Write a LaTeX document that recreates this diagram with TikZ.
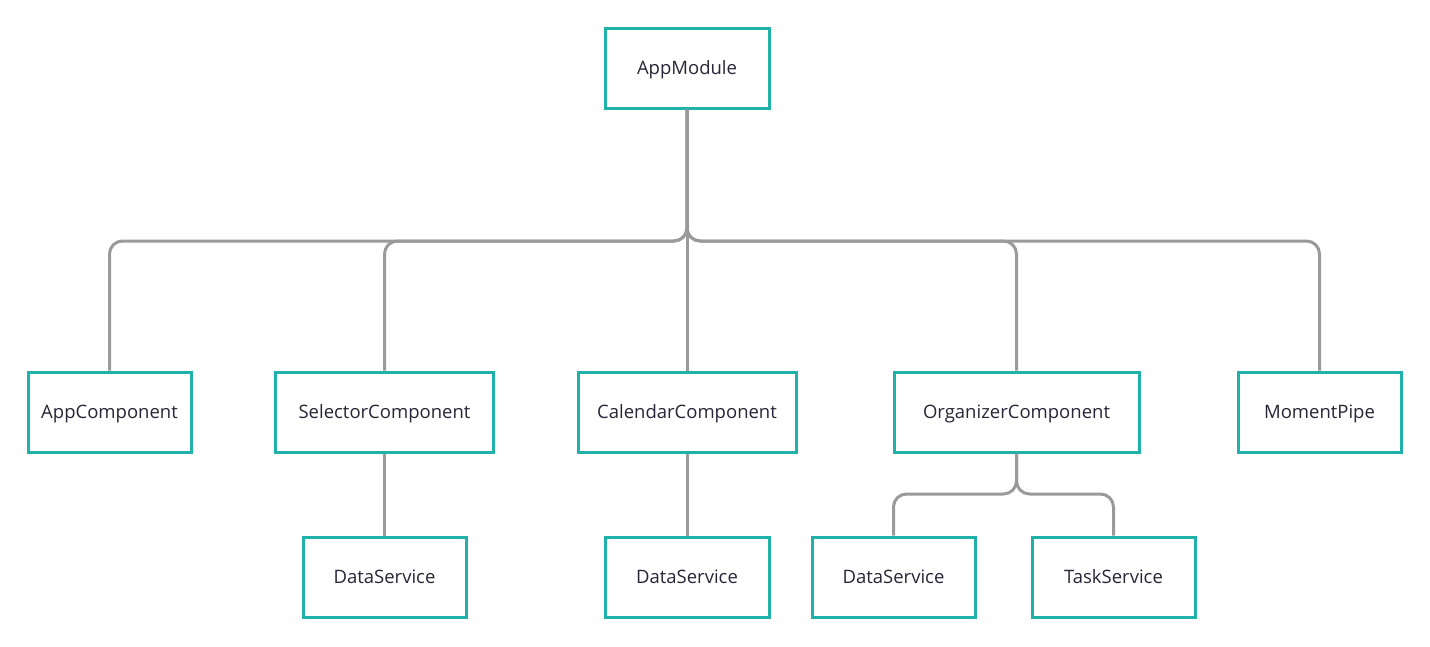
\documentclass[tikz,border=0pt]{standalone}
\usepackage{fontspec}
\setmainfont{Open Sans}
\definecolor{boxteal}{HTML}{20B2AA}
\definecolor{linkgray}{HTML}{9A9A9A}
\definecolor{labelink}{HTML}{262638}
\tikzset{
  modbox/.style={draw=boxteal,line width=3pt,fill=white,text=labelink,
    minimum height=80,inner sep=0pt,text height=1.2em,text depth=0pt,
    font=\fontsize{18.5}{22}\selectfont},
  link/.style={draw=linkgray,line width=3pt,rounded corners=13pt}
}
\begin{document}
\begin{tikzpicture}[x=1pt,y=-1pt]
  \useasboundingbox (0,0) rectangle (1430,646);
  % bus points of the tree
  \coordinate (bus) at (687,241);
  \coordinate (subbus) at (1016.5,494);
  \node (AppModule) [modbox,minimum width=164] at (687,68) {AppModule};
  \node (AppComp) [modbox,minimum width=163] at (109.5,412) {AppComponent};
  \node (SelComp) [modbox,minimum width=218] at (384.5,412) {SelectorComponent};
  \node (CalComp) [modbox,minimum width=218] at (687,412) {CalendarComponent};
  \node (OrgComp) [modbox,minimum width=245] at (1016.5,412) {OrganizerComponent};
  \node (Pipe) [modbox,minimum width=163] at (1319.5,412) {MomentPipe};
  \node (SelData) [modbox,minimum width=163] at (384.5,577) {DataService};
  \node (CalData) [modbox,minimum width=164] at (687,577) {DataService};
  \node (OrgData) [modbox,minimum width=163] at (893.5,577) {DataService};
  \node (OrgTask) [modbox,minimum width=163] at (1113.5,577) {TaskService};
  \foreach \child in {AppComp,SelComp,OrgComp,Pipe}
    \draw[link] (AppModule.south) -- (bus) -| (\child.north);
  \draw[link] (AppModule.south) -- (CalComp.north);
  \draw[link] (SelComp.south) -- (SelData.north);
  \draw[link] (CalComp.south) -- (CalData.north);
  \foreach \child in {OrgData,OrgTask}
    \draw[link] (OrgComp.south) -- (subbus) -| (\child.north);
\end{tikzpicture}
\end{document}
